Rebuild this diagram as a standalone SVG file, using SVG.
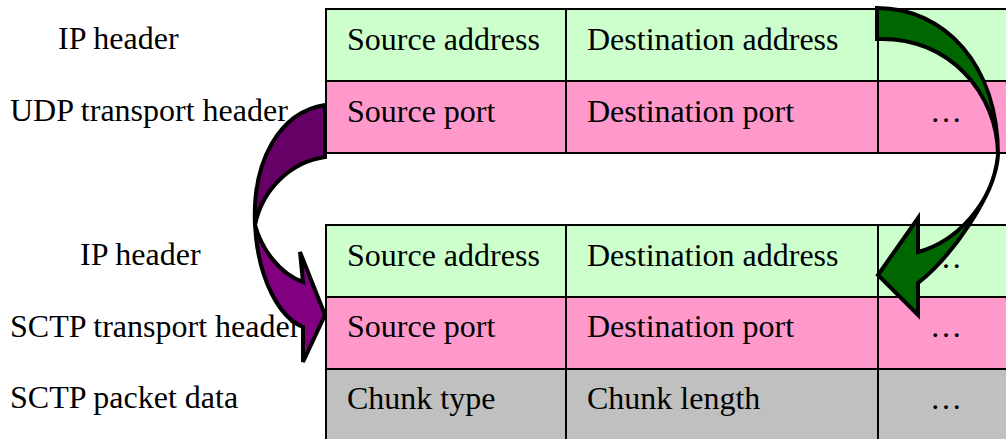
<svg xmlns="http://www.w3.org/2000/svg" width="1006" height="439" viewBox="0 0 1006 439">
<style>
text{font-family:"Liberation Serif","Times New Roman",serif;font-size:32px;fill:#000}
.g{fill:#CCFFCC;stroke:#000;stroke-width:2}
.p{fill:#FF99CC;stroke:#000;stroke-width:2}
.k{fill:#C0C0C0;stroke:#000;stroke-width:2}
.ln{stroke:#000;stroke-width:2}
.ar{stroke:#000;stroke-width:4;stroke-linejoin:miter}
</style>
<rect width="1006" height="439" fill="#fff"/>
<g id="labels">
<text x="58" y="49">IP header</text>
<text x="10" y="121">UDP transport header</text>
<text x="80" y="265">IP header</text>
<text x="10" y="337">SCTP transport header</text>
<text x="10" y="408">SCTP packet data</text>
</g>
<g id="udp-packet">
<rect class="g" x="326" y="9" width="690" height="72"/>
<rect class="p" x="326" y="81" width="690" height="72"/>
<line class="ln" x1="566" y1="9" x2="566" y2="153"/>
<line class="ln" x1="878" y1="9" x2="878" y2="153"/>
<text x="347" y="50">Source address</text>
<text x="587" y="50">Destination address</text>
<text x="930" y="53">…</text>
<text x="347" y="122">Source port</text>
<text x="587" y="122">Destination port</text>
<text x="930" y="122">…</text>
</g>
<g id="sctp-packet">
<rect class="g" x="326" y="225" width="690" height="72"/>
<rect class="p" x="326" y="297" width="690" height="72"/>
<rect class="k" x="326" y="369" width="690" height="80"/>
<line class="ln" x1="566" y1="225" x2="566" y2="441"/>
<line class="ln" x1="878" y1="225" x2="878" y2="441"/>
<text x="347" y="266">Source address</text>
<text x="587" y="266">Destination address</text>
<text x="930" y="268">…</text>
<text x="347" y="337">Source port</text>
<text x="587" y="337">Destination port</text>
<text x="930" y="337">…</text>
<text x="347" y="409">Chunk type</text>
<text x="587" y="409">Chunk length</text>
<text x="930" y="409">…</text>
</g>
<g id="connectors">
<g id="port-arrow">
<path class="ar" fill="#660066" d="M325,105 C280,112 252,160 255,225 C262,190 290,162 325,157 Z"/>
<path class="ar" fill="#800080" d="M255,225 C262,250 280,274 303,282 L300,252 L325,315 L303,362 L303,327 C280,318 258,280 255,225 Z"/>
</g>
<g id="address-arrow">
<path class="ar" fill="#006600" d="M877,8 C945,8 998,65 998,155 C998,95 950,36 877,39 Z"/>
<path class="ar" fill="#006600" d="M998,155 C996,195 950,258 918,283 L918,315 L878,275 L918,218 L918,252 C955,242 993,205 998,155 Z"/>
</g>
</g>
</svg>
